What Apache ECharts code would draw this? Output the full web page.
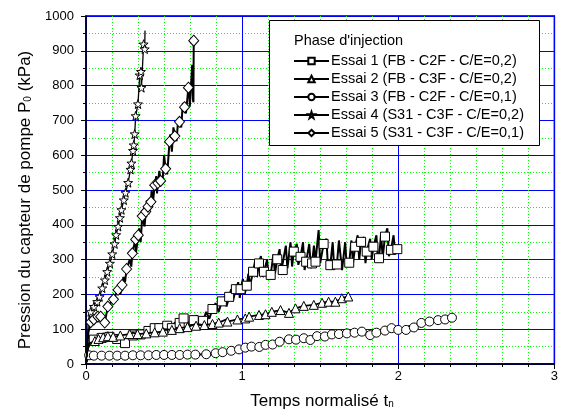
<!DOCTYPE html>
<html><head><meta charset="utf-8">
<script src="https://cdn.jsdelivr.net/npm/echarts@6/dist/echarts.min.js"></script>
<style>html,body{margin:0;padding:0;background:#fff}#c{width:561px;height:419px}</style>
</head><body><div id="c"></div>
<script>
const FONT = "'Liberation Sans', Arial, Helvetica, sans-serif";
const seriesNames = [
  'Essai 1 (FB - C2F - C/E=0,2)',
  'Essai 2 (FB - C3F - C/E=0,2)',
  'Essai 3 (FB - C2F - C/E=0,1)',
  'Essai 4 (S31 - C3F - C/E=0,2)',
  'Essai 5 (S31 - C3F - C/E=0,1)'
];
const legendTitle = "Phase d'injection";
const xTicks = [0, 1, 2, 3];
const yTicks = [0, 100, 200, 300, 400, 500, 600, 700, 800, 900, 1000];

// Essai 1 : marked points and noisy in-between readings
const e1Markers = [[0.05,70],[0.1,75],[0.15,78],[0.2,72],[0.25,60],[0.3,82],[0.35,85],[0.4,95],[0.44,103],[0.47,103],[0.52,110],[0.55,103],[0.6,118],[0.625,131],[0.69,126],[0.75,124],[0.81,158],[0.87,180],[0.917,193],[0.96,215],[0.99,215],[1.03,225],[1.07,265],[1.108,289],[1.14,265],[1.183,256],[1.225,301],[1.26,270],[1.331,323],[1.374,308],[1.41,294],[1.448,289],[1.47,294],[1.522,345],[1.565,284],[1.607,286],[1.686,291],[1.724,337],[1.762,351],[1.798,323],[1.841,337],[1.877,304],[1.915,366],[1.953,328],[1.994,330]];
const e1Noise = [[0.003,5],[0.008,30],[0.015,55],[0.03,65],[0.32,90],[0.37,80],[0.42,100],[0.46,92],[0.5,112],[0.53,98],[0.57,120],[0.59,100],[0.64,135],[0.66,110],[0.71,140],[0.73,115],[0.77,150],[0.79,130],[0.83,175],[0.85,150],[0.89,195],[0.9,165],[0.93,215],[0.94,180],[0.975,235],[0.985,190],[1.005,245],[1.015,200],[1.04,260],[1.05,225],[1.085,300],[1.095,250],[1.12,310],[1.13,250],[1.16,300],[1.17,245],[1.2,315],[1.21,260],[1.24,330],[1.25,265],[1.28,340],[1.29,275],[1.31,350],[1.32,280],[1.35,345],[1.36,285],[1.39,350],[1.4,270],[1.43,345],[1.44,275],[1.46,340],[1.49,385],[1.5,290],[1.54,360],[1.55,275],[1.58,350],[1.59,275],[1.62,355],[1.64,270],[1.66,350],[1.67,280],[1.7,355],[1.71,290],[1.74,370],[1.75,300],[1.78,365],[1.79,290],[1.82,360],[1.83,300],[1.86,370],[1.87,295],[1.89,375],[1.9,305],[1.93,390],[1.94,310],[1.97,370],[1.98,315]];

// Essai 2
const e2Markers = [[0.057,66],[0.08,72],[0.11,77],[0.14,80],[0.174,78],[0.22,82],[0.28,86],[0.33,86],[0.386,88],[0.44,91],[0.492,93],[0.55,98],[0.6,103],[0.65,106],[0.705,110],[0.758,112],[0.81,115],[0.85,119],[0.906,122],[0.97,128],[1.02,131],[1.045,136],[1.108,141],[1.15,143],[1.19,150],[1.246,155],[1.3,147],[1.342,160],[1.395,167],[1.459,170],[1.512,176],[1.554,179],[1.597,179],[1.639,189],[1.68,194]];
const e2Noise = [[0.004,8],[0.01,40],[0.025,60],[0.3,90],[0.5,100],[0.7,115],[0.9,128]];

// Essai 3
const e3Markers = [[0.02,25],[0.05,24],[0.1,24],[0.15,24],[0.2,24],[0.25,24],[0.3,25],[0.35,25],[0.4,25],[0.45,26],[0.5,26],[0.55,26],[0.6,26],[0.65,27],[0.7,27],[0.77,28],[0.83,31],[0.875,34],[0.93,38],[0.98,42],[1.02,47],[1.06,50],[1.11,49],[1.15,55],[1.195,56],[1.24,64],[1.3,71],[1.345,70],[1.395,74],[1.437,69],[1.48,80],[1.53,79],[1.575,85],[1.62,86],[1.671,88],[1.72,90],[1.767,93],[1.82,83],[1.86,90],[1.915,96],[1.957,103],[2.0,98],[2.05,98],[2.1,105],[2.148,118],[2.2,122],[2.255,126],[2.3,128],[2.344,133]];
const e3Noise = [[0.004,5],[0.01,20],[1.9,100],[1.98,108],[2.07,110],[2.12,112]];

// Essai 4
const e4Markers = [[0.03,150],[0.051,165],[0.072,179],[0.087,193],[0.104,218],[0.121,241],[0.136,265],[0.153,289],[0.168,316],[0.183,345],[0.193,371],[0.206,395],[0.217,420],[0.227,443],[0.242,471],[0.253,492],[0.27,521],[0.285,559],[0.291,577],[0.301,613],[0.306,629],[0.312,661],[0.318,713],[0.333,747],[0.344,830],[0.352,840],[0.355,794],[0.369,919],[0.376,905]];
const e4Noise = [[0.004,15],[0.008,60],[0.013,110],[0.02,135],[0.378,958]];

// Essai 5
const e5Markers = [[0.03,120],[0.05,128],[0.076,136],[0.094,136],[0.12,119],[0.14,165],[0.176,186],[0.205,213],[0.231,227],[0.26,273],[0.297,318],[0.318,358],[0.335,370],[0.36,425],[0.383,438],[0.397,452],[0.416,466],[0.44,514],[0.46,520],[0.478,526],[0.51,561],[0.535,639],[0.569,655],[0.599,696],[0.631,738],[0.656,794],[0.69,929]];
const e5Noise = [[0.005,20],[0.015,90],[0.22,200],[0.24,250],[0.25,235],[0.28,300],[0.29,280],[0.31,345],[0.32,320],[0.34,390],[0.35,350],[0.37,430],[0.375,395],[0.39,470],[0.4,430],[0.42,500],[0.43,470],[0.45,540],[0.455,490],[0.47,555],[0.49,520],[0.5,600],[0.52,545],[0.54,660],[0.55,610],[0.56,680],[0.58,640],[0.59,700],[0.61,680],[0.62,750],[0.64,720],[0.66,800],[0.665,740],[0.68,860],[0.685,760],[0.688,752]];

const markers = [e1Markers, e2Markers, e3Markers, e4Markers, e5Markers];
const noises = [e1Noise, e2Noise, e3Noise, e4Noise, e5Noise];
const symbols = ['rect', 'triangle', 'circle', 'path://M0,-10 L2.35,-3.24 L9.51,-3.09 L3.8,1.24 L5.88,8.09 L0,4 L-5.88,8.09 L-3.8,1.24 L-9.51,-3.09 L-2.35,-3.24 Z', 'diamond'];
const symSizes = [9, 9, 9, 9, [10, 11]];
const lineWidths = [2, 1.8, 1.8, 1.3, 2];

function buildData(mk, nz) {
  const pts = mk.map(p => ({ v: p, m: true })).concat(nz.map(p => ({ v: p, m: false })));
  pts.sort((a, b) => a.v[0] - b.v[0]);
  return pts.map(p => p.m ? { value: p.v } : { value: p.v, symbol: 'none' });
}

const series = seriesNames.map((name, i) => ({
  name: name,
  type: 'line',
  data: buildData(markers[i], noises[i]),
  symbol: symbols[i],
  symbolSize: symSizes[i],
  showSymbol: true,
  showAllSymbol: true,
  animation: false,
  lineStyle: { color: '#000', width: lineWidths[i] },
  itemStyle: { color: '#fff', borderColor: '#000', borderWidth: 1 },
  emphasis: { disabled: true },
  z: 2 + i
}));

const chart = echarts.init(document.getElementById('c'), null, { renderer: 'canvas' });
chart.setOption({
  animation: false,
  backgroundColor: '#fff',
  textStyle: { fontFamily: FONT, color: '#000' },
  grid: { left: 86, top: 16, width: 471, height: 348, show: true, borderColor: '#000', borderWidth: 1.5, backgroundColor: 'transparent' },
  xAxis: {
    type: 'value', min: xTicks[0], max: xTicks[xTicks.length - 1], interval: 1,
    axisLine: { show: true, onZero: false, lineStyle: { color: '#000', width: 1.5 } },
    axisTick: { show: true, inside: false, length: 5, lineStyle: { color: '#000', width: 1 } },
    minorTick: { show: true, splitNumber: 6, length: 3, lineStyle: { color: '#000', width: 1 } },
    splitLine: { show: true, lineStyle: { color: '#0000ff', width: 1 } },
    minorSplitLine: { show: true, lineStyle: { color: '#00ff00', width: 1, type: [1, 2] } },
    axisLabel: { fontSize: 13, color: '#000', fontFamily: FONT, margin: 6, formatter: v => String(v) }
  },
  yAxis: {
    type: 'value', min: yTicks[0], max: yTicks[yTicks.length - 1], interval: 100,
    axisLine: { show: true, onZero: false, lineStyle: { color: '#000', width: 1.5 } },
    axisTick: { show: true, inside: false, length: 5, lineStyle: { color: '#000', width: 1 } },
    minorTick: { show: true, splitNumber: 2, length: 3, lineStyle: { color: '#000', width: 1 } },
    splitLine: { show: true, lineStyle: { color: '#0000ff', width: 1 } },
    minorSplitLine: { show: true, lineStyle: { color: '#00ff00', width: 1, type: [1, 2] } },
    axisLabel: { fontSize: 13, color: '#000', fontFamily: FONT, margin: 12, formatter: v => String(v) }
  },
  legend: {
    orient: 'vertical', left: 293, top: 53, padding: 0,
    itemWidth: 35, itemHeight: 8, itemGap: 2,
    data: seriesNames,
    textStyle: { fontSize: 14.5, color: '#000', fontFamily: FONT, padding: [0, 0, 0, -3], lineHeight: 16 },
    selectedMode: false,
    z: 10
  },
  graphic: [
    { type: 'rect', z: 8, shape: { x: 269.5, y: 20.5, width: 270, height: 125 }, style: { fill: '#fff', stroke: '#000', lineWidth: 1 } },
    { type: 'text', z: 9, x: 294, y: 41, style: { text: legendTitle, fontSize: 14.5, fontFamily: FONT, fill: '#000', align: 'left', verticalAlign: 'middle' } },
    { type: 'text', z: 9, x: 25, y: 200, rotation: Math.PI / 2, style: { text: 'Pression du capteur de pompe P{s|0} (kPa)', fontSize: 17, fontFamily: FONT, fill: '#000', align: 'center', verticalAlign: 'middle', rich: { s: { fontSize: 10, fontFamily: FONT, fill: '#000', verticalAlign: 'bottom', lineHeight: 10, padding: [9, 0, 0, 0] } } } },
    { type: 'text', z: 9, x: 322, y: 401, style: { text: 'Temps normalisé t{s|n}', fontSize: 17, fontFamily: FONT, fill: '#000', align: 'center', verticalAlign: 'middle', rich: { s: { fontSize: 10, fontFamily: FONT, fill: '#000', verticalAlign: 'bottom', lineHeight: 10, padding: [9, 0, 0, 0] } } } }
  ],
  series: series
});
</script>
</body></html>
